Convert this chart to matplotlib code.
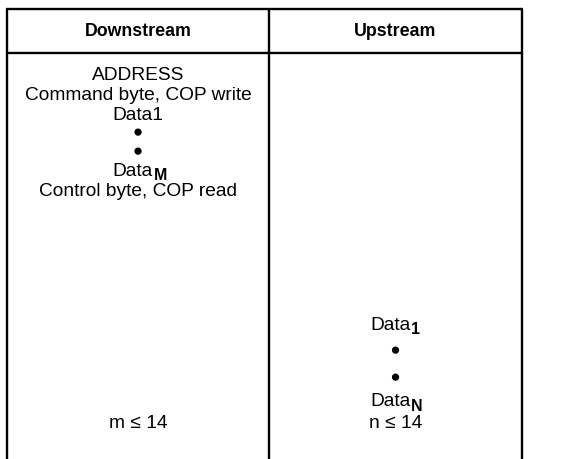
import matplotlib
matplotlib.use("Agg")
import matplotlib.pyplot as plt
import matplotlib.patheffects as pe

plt.rcParams["font.family"] = ["Liberation Sans", "DejaVu Sans"]

# table content
headers = ["Downstream", "Upstream"]
downstream_rows = [("ADDRESS", ""), ("Command byte, COP write", ""), ("Data1", ""),
                   ("\u2022", ""), ("\u2022", ""), ("Data", "M"),
                   ("Control byte, COP read", "")]
downstream_y = [76, 95, 115, 134, 153, 171, 192]
upstream_rows = [("Data", "1"), ("\u2022", ""), ("\u2022", ""), ("Data", "N")]
upstream_y = [325, 352, 379, 402]
footer = ["m \u2264 14", "n \u2264 14"]
footer_y = 423

# layout (pixels)
W, H = 575, 459
x_left, x_mid, x_right = 7, 269, 522
y_top, y_head = 9, 53
fs = 13.8
fs_head = 12.8
fs_sub = 11.5

fig = plt.figure(figsize=(W / 100, H / 100), dpi=100)
ax = fig.add_axes([0, 0, 1, 1])
ax.set_xlim(0, W)
ax.set_ylim(H, 0)
ax.axis("off")

lw = 1.7
for x in (x_left, x_mid, x_right):
    ax.plot([x, x], [y_top, H + 5], color="black", lw=lw, solid_capstyle="butt")
for y in (y_top, y_head):
    ax.plot([x_left - 1, x_right + 1], [y, y], color="black", lw=lw, solid_capstyle="butt")

cx = [(x_left + x_mid) / 2, (x_mid + x_right) / 2]
for c, h in zip(cx, headers):
    ax.text(c, (y_top + y_head) / 2 + 1, h, ha="center", va="center",
            fontsize=fs_head, fontweight="bold")


def cell_text(x, y, label, sub):
    if label == "\u2022":
        ax.text(x, y, label, ha="center", va="center", fontsize=fs,
                path_effects=[pe.withStroke(linewidth=1.5, foreground="black")])
        return
    if not sub:
        ax.text(x, y, label, ha="center", va="center", fontsize=fs)
        return
    base = ax.text(x - 5, y, label, ha="center", va="center", fontsize=fs)
    ax.annotate(sub, xy=(1, 0.5), xycoords=base, xytext=(0.5, -3),
                textcoords="offset points", ha="left", va="center",
                fontsize=fs_sub, fontweight="bold")


for (t, s), y in zip(downstream_rows, downstream_y):
    cell_text(cx[0], y, t, s)
for (t, s), y in zip(upstream_rows, upstream_y):
    cell_text(cx[1], y, t, s)
for c, t in zip(cx, footer):
    ax.text(c, footer_y, t, ha="center", va="center", fontsize=fs)

fig.savefig("out.png", dpi=100)
